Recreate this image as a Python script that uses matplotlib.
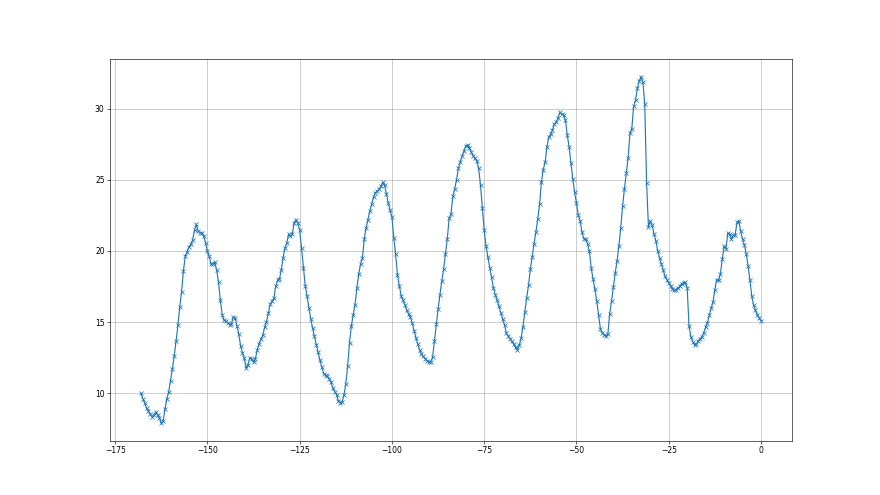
import numpy as np
import matplotlib
matplotlib.use("Agg")
import matplotlib.pyplot as plt

# Half-hourly readings, hours relative to now (-168 .. 0)
hours = np.arange(-168, 0.5, 0.5)

day1 = [10.0, 9.62, 9.32, 8.96, 8.78, 8.54, 8.37, 8.5, 8.68, 8.45, 8.26, 7.9, 8.05, 8.9, 9.6, 10.1,
        10.9, 11.7, 12.63, 13.67, 14.78, 16.06, 17.13, 18.62, 19.65, 19.93, 20.30, 20.47, 20.79, 21.48,
        21.87, 21.37, 21.29, 21.28, 21.02, 20.56, 19.97, 19.62, 19.05, 19.11, 19.23, 18.66, 17.79, 16.55,
        15.52, 15.14, 15.07, 14.97, 14.82, 14.89, 15.35, 15.29, 14.75, 14.15, 13.32, 12.83, 12.45, 11.75,
        12.01, 12.51, 12.40, 12.17, 12.44, 13.05, 13.5]
day2 = [13.79, 14.08, 14.63, 15.02, 15.61, 16.24, 16.46, 16.68, 17.51, 17.93, 18.01, 18.65, 19.53,
        20.2, 20.55, 21.19, 21.02, 21.18, 21.99, 22.2, 21.95, 21.45, 20.18, 18.83, 17.56, 16.82, 16.0,
        15.24, 14.57, 14.0, 13.43, 12.87, 12.33, 11.85, 11.39, 11.28, 11.19, 11.03, 10.79, 10.34, 10.12,
        9.91, 9.45, 9.34, 9.40, 9.88, 10.68, 11.91, 13.55, 14.72, 15.53, 16.23, 17.40, 18.36, 19.11,
        19.50, 20.86, 21.62, 22.2, 22.79, 23.28, 23.78, 24.1]
day3 = [24.19, 24.33, 24.55, 24.81, 24.6, 24.02, 23.38, 22.85, 22.39, 20.92, 19.76, 18.31, 17.55,
        16.83, 16.54, 16.23, 15.82, 15.57, 15.35, 14.93, 14.41, 13.91, 13.45, 13.04, 12.76, 12.59, 12.44,
        12.3, 12.23, 12.21, 12.53, 13.67, 14.85, 15.9, 16.93, 17.86, 18.72, 19.77, 20.86, 22.30, 22.62,
        23.85, 24.34, 25.0, 25.8, 26.25, 26.65, 27.0, 27.4, 27.45, 27.25, 26.95, 26.7, 26.5, 26.3, 25.8,
        24.6, 23.0, 21.45, 20.34, 19.58]
day4 = [18.82, 18.15, 17.40, 16.93, 16.54, 16.1, 15.67, 15.24, 14.8, 14.24, 14.01, 13.85, 13.65,
        13.44, 13.22, 13.04, 13.38, 13.87, 14.69, 15.7, 16.69, 17.58, 18.73, 19.57, 20.52, 21.33, 22.22,
        23.28, 24.84, 25.72, 26.23, 27.3, 28.0, 28.2, 28.5, 28.9, 29.05, 29.35, 29.74, 29.6, 29.58,
        29.2, 28.16, 27.3, 26.15, 25.06, 24.13, 23.36, 22.5]
day5 = [22.1, 21.3, 20.86, 20.82, 20.5, 19.98, 18.8, 18.0, 17.3, 16.47, 15.5, 14.51, 14.25, 14.11,
        14.03, 14.14, 15.59, 16.49, 17.5, 18.45, 19.32, 20.38, 21.64, 23.16, 24.38, 25.47, 26.55, 28.28,
        28.6, 30.19, 30.6, 31.43, 31.93, 32.24, 31.85, 30.3, 24.8, 21.7, 22.1, 21.8, 21.22, 20.73, 20.03,
        19.51, 19.1, 18.65, 18.22, 17.97, 17.75, 17.56, 17.34, 17.23, 17.29, 17.38, 17.54, 17.7, 17.78,
        17.8, 17.4, 14.7, 13.99, 13.62, 13.39, 13.45, 13.68, 13.83, 13.98, 14.25, 14.65, 14.96]
day6 = [15.5, 15.97, 16.44, 17.28, 17.99, 17.93, 18.39, 19.42, 20.33, 20.15, 21.23, 21.19, 20.83,
        21.09, 21.14, 22.0, 22.11, 21.38, 20.83, 20.43, 19.8, 18.95, 17.96, 16.83, 16.17, 15.86, 15.53,
        15.3, 15.1]

values = day1 + day2 + day3 + day4 + day5 + day6

fig, ax = plt.subplots(figsize=(16, 9), dpi=55)
ax.plot(hours, values, marker="x", color="C0")
ax.grid(True)
fig.savefig("out.png", dpi=55)
